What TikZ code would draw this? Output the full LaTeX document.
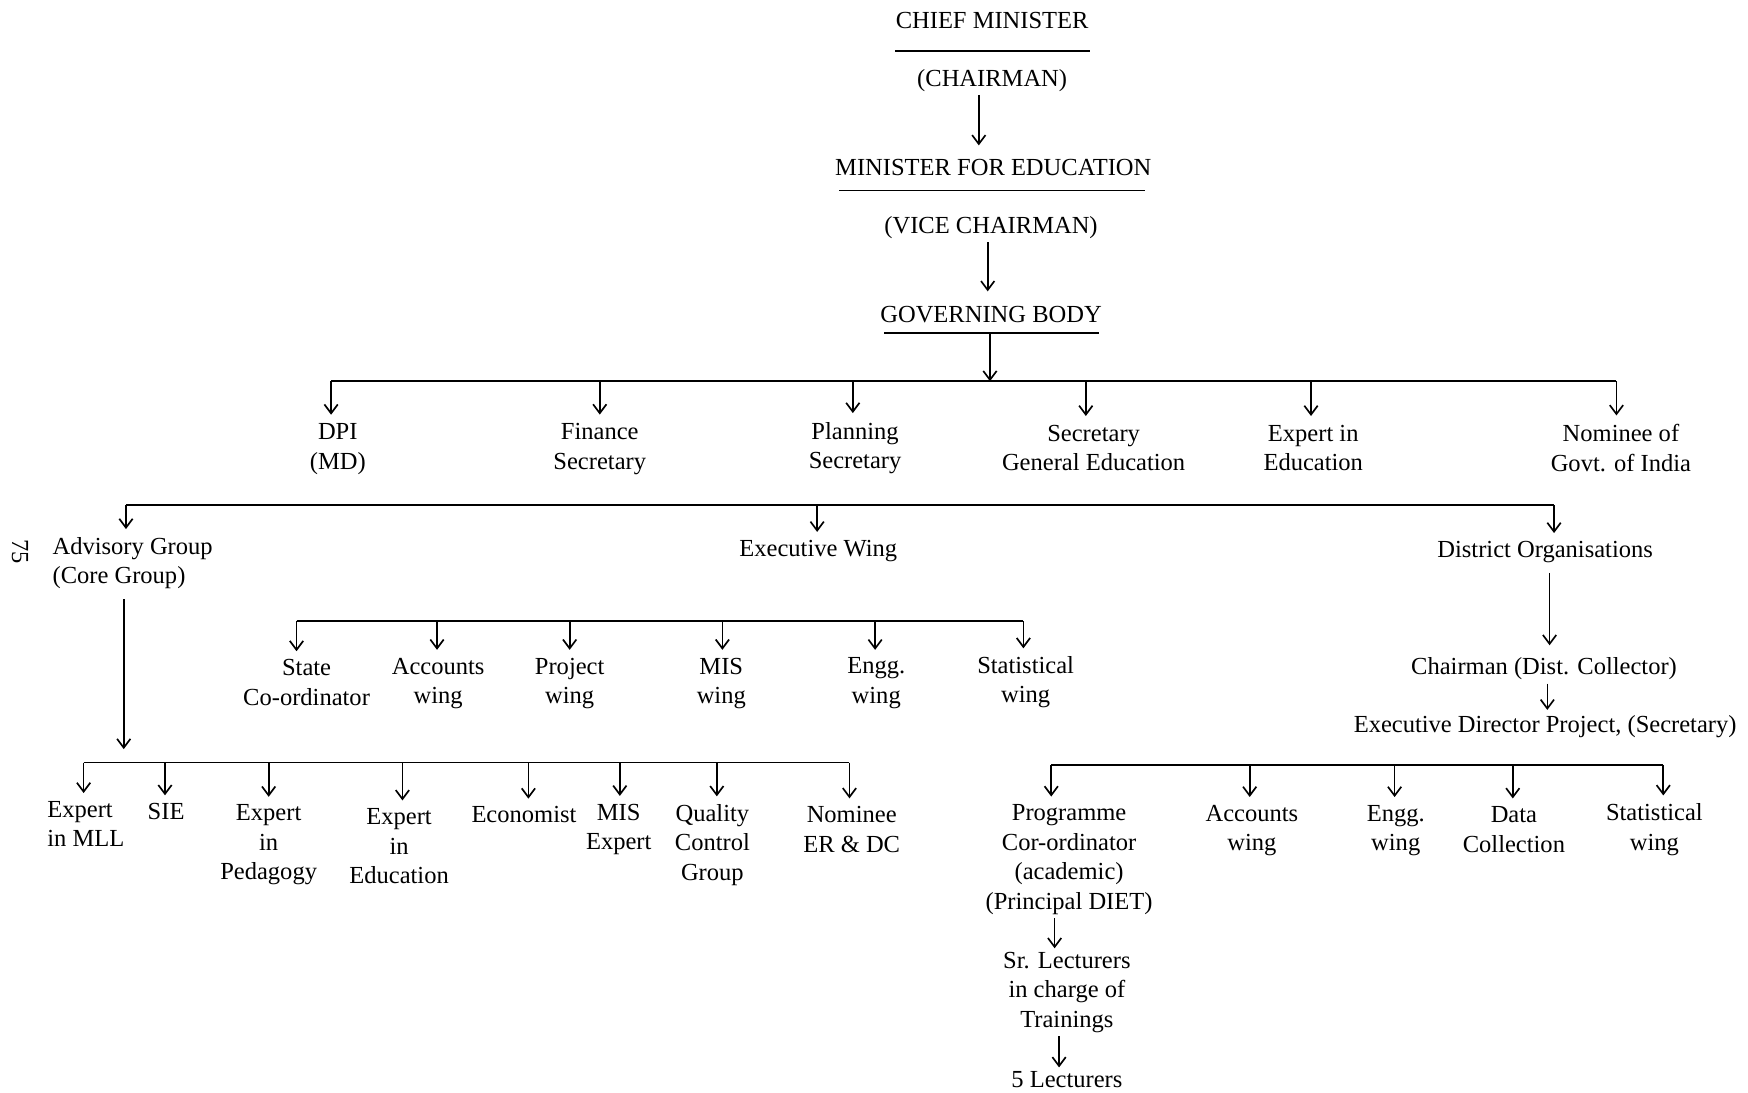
\documentclass[tikz,border=0pt]{standalone}
\usepackage{fontspec}
\setmainfont{Liberation Serif}
\usetikzlibrary{arrows.meta}
\tikzset{
  lbl/.style={inner sep=3pt, align=center, font=\fontsize{22}{26.5}\selectfont},
  ln/.style={line width=1.5pt},
  arr/.style={line width=1.5pt, -{Straight Barb[length=8pt,width=12pt,line width=1.5pt]}},
}
\begin{document}
\begin{tikzpicture}[x=1pt,y=-1pt]
\useasboundingbox[fill=white] (0,0) rectangle (1568,980);

% ---------- top chain ----------
\node[lbl] (cm)  at (890,18)  {CHIEF MINISTER};
\node[lbl] (ch)  at (890,72)  {(CHAIRMAN)};
\node[lbl] (mfe) at (891,150) {MINISTER FOR EDUCATION};
\node[lbl] (vc)  at (889,204) {(VICE CHAIRMAN)};
\node[lbl] (gb)  at (889,282) {GOVERNING BODY};
\coordinate (u1a) at (803,46);  \coordinate (u1b) at (978,46);
\coordinate (u2a) at (753,171); \coordinate (u2b) at (1027,171);
\coordinate (u3a) at (793,299); \coordinate (u3b) at (986,299);
\draw[ln] (u1a) -- (u1b);
\draw[ln] (u2a) -- (u2b);
\draw[ln] (u3a) -- (u3b);
\coordinate (x1) at (878,0);
\coordinate (x2) at (886,0);
\draw[arr, shorten >=9pt] (ch.south -| x1) -- (mfe.north -| x1);
\draw[arr, shorten >=10pt] (vc.south -| x2) -- (gb.north -| x2);

% ---------- governing body bus ----------
\coordinate (g0) at (888,342);
\coordinate (d1) at (297,342);
\coordinate (d2) at (538,342);
\coordinate (d3) at (765,342);
\coordinate (d4) at (974,342);
\coordinate (d5) at (1176,342);
\coordinate (d6) at (1450,342);
\draw[arr] (u3a -| g0) -- (g0);
\draw[ln] (d1) -- (d6);
\node[lbl] (dpi) at (303,403)  {DPI\\(MD)};
\node[lbl] (fin) at (538,403)  {Finance\\Secretary};
\node[lbl] (pla) at (767,402)  {Planning\\Secretary};
\node[lbl] (sge) at (981,402)  {Secretary\\General Education};
\node[lbl] (eie) at (1178,402) {Expert in\\Education};
\node[lbl] (nom) at (1454,402) {Nominee of\\Govt. of India};
\draw[arr, shorten >=5pt] (d1) -- (d1 |- dpi.north);
\draw[arr, shorten >=5pt] (d2) -- (d2 |- fin.north);
\draw[arr, shorten >=5pt] (d3) -- (d3 |- pla.north);
\draw[arr, shorten >=5pt] (d4) -- (d4 |- sge.north);
\draw[arr, shorten >=5pt] (d5) -- (d5 |- eie.north);
\draw[arr, shorten >=5pt] (d6) -- (d6 |- nom.north);

% ---------- second bus ----------
\coordinate (e1) at (113,453);
\coordinate (e2) at (733,453);
\coordinate (e3) at (1394,453);
\draw[ln] (e1) -- (e3);
\node[lbl, anchor=west, align=left] (adv) at (44,505) {Advisory Group\\(Core Group)};
\node[lbl] (exw) at (734,494)  {Executive Wing};
\node[lbl] (dor) at (1386,495) {District Organisations};
\node[lbl, rotate=-90] (pg) at (18,495) {75};
\draw[arr, shorten >=4pt] (e1) -- (e1 |- adv.north);
\draw[arr, shorten >=4pt] (e2) -- (e2 |- exw.north);
\draw[arr, shorten >=4pt] (e3) -- (e3 |- dor.north);

% ---------- advisory group ----------
\coordinate (a0) at (111,684);
\draw[arr, shorten <=6pt, shorten >=12pt] (adv.south -| a0) -- (a0);
\coordinate (a1) at (75,684);
\coordinate (a2) at (148,684);
\coordinate (a3) at (241,684);
\coordinate (a4) at (361,684);
\coordinate (a5) at (474,684);
\coordinate (a6) at (556,684);
\coordinate (a7) at (643,684);
\coordinate (a8) at (762,684);
\draw[ln] (a1) -- (a8);
\node[lbl, align=left] (mll) at (77,739) {Expert\\in MLL};
\node[lbl] (sie) at (149,728) {SIE};
\node[lbl] (ped) at (241,758) {Expert\\in\\Pedagogy};
\node[lbl] (edu) at (358,759) {Expert\\in\\Education};
\node[lbl] (eco) at (470,731) {Economist};
\node[lbl] (mis) at (555,744) {MIS\\Expert};
\node[lbl] (qcg) at (639,758) {Quality\\Control\\Group};
\node[lbl] (erd) at (764,744) {Nominee\\ER \& DC};
\draw[arr, shorten >=4pt] (a1) -- (a1 |- mll.north);
\draw[arr, shorten >=4pt] (a2) -- (a2 |- sie.north);
\draw[arr, shorten >=4pt] (a3) -- (a3 |- ped.north);
\draw[arr, shorten >=4pt] (a4) -- (a4 |- edu.north);
\draw[arr, shorten >=4pt] (a5) -- (a5 |- eco.north);
\draw[arr, shorten >=4pt] (a6) -- (a6 |- mis.north);
\draw[arr, shorten >=4pt] (a7) -- (a7 |- qcg.north);
\draw[arr, shorten >=4pt] (a8) -- (a8 |- erd.north);

% ---------- executive wing ----------
\coordinate (w1) at (266,557);
\coordinate (w2) at (392,557);
\coordinate (w3) at (511,557);
\coordinate (w4) at (648,557);
\coordinate (w5) at (785,557);
\coordinate (w6) at (918,557);
\draw[ln] (w1) -- (w6);
\node[lbl] (sco) at (275,612) {State\\Co-ordinator};
\node[lbl] (acw) at (393,613) {Accounts\\wing};
\node[lbl] (prw) at (511,613) {Project\\wing};
\node[lbl] (miw) at (647,613) {MIS\\wing};
\node[lbl] (enw) at (786,613) {Engg.\\wing};
\node[lbl] (stw) at (920,612) {Statistical\\wing};
\draw[arr, shorten >=4pt] (w1) -- (w1 |- sco.north);
\draw[arr, shorten >=4pt] (w2) -- (w2 |- acw.north);
\draw[arr, shorten >=4pt] (w3) -- (w3 |- prw.north);
\draw[arr, shorten >=4pt] (w4) -- (w4 |- miw.north);
\draw[arr, shorten >=4pt] (w5) -- (w5 |- enw.north);
\draw[arr, shorten >=4pt] (w6) -- (w6 |- stw.north);

% ---------- district organisations ----------
\node[lbl] (chr) at (1385,600) {Chairman (Dist. Collector)};
\node[lbl] (edp) at (1386,652) {Executive Director Project, (Secretary)};
\coordinate (y1) at (1390,0);
\coordinate (y2) at (1388,0);
\draw[arr, shorten <=6pt, shorten >=8pt] (dor.south -| y1) -- (chr.north -| y1);
\draw[arr, shorten >=2pt] (chr.south -| y2) -- (edp.north -| y2);
\coordinate (p1) at (943,686);
\coordinate (p2) at (1121,686);
\coordinate (p3) at (1251,686);
\coordinate (p4) at (1357,686);
\coordinate (p5) at (1492,686);
\draw[ln] (p1) -- (p5);
\node[lbl] (pco) at (959,771) {Programme\\Cor-ordinator\\(academic)\\(Principal DIET)};
\node[lbl] (dac) at (1123,745) {Accounts\\wing};
\node[lbl] (den) at (1252,745) {Engg.\\wing};
\node[lbl] (ddc) at (1358,744) {Data\\Collection};
\node[lbl] (dst) at (1484,744) {Statistical\\wing};
\draw[arr, shorten >=4pt] (p1) -- (p1 |- pco.north);
\draw[arr, shorten >=4pt] (p2) -- (p2 |- dac.north);
\draw[arr, shorten >=4pt] (p3) -- (p3 |- den.north);
\draw[arr, shorten >=4pt] (p4) -- (p4 |- ddc.north);
\draw[arr, shorten >=4pt] (p5) -- (p5 |- dst.north);
\node[lbl] (slr) at (957,890) {Sr. Lecturers\\in charge of\\Trainings};
\node[lbl] (lec) at (957,968) {5 Lecturers};
\coordinate (z1) at (946,0);
\coordinate (z2) at (950,0);
\draw[arr] (pco.south -| z1) -- (slr.north -| z1);
\draw[arr] (slr.south -| z2) -- (lec.north -| z2);
\end{tikzpicture}
\end{document}
